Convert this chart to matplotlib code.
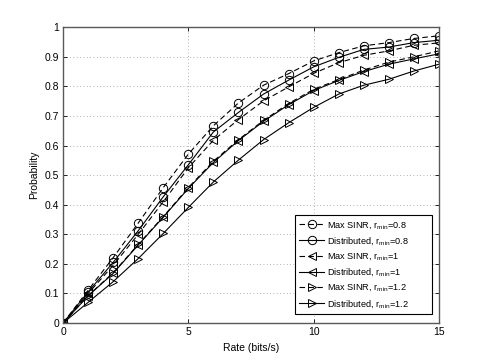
import matplotlib
matplotlib.use("Agg")
import matplotlib.pyplot as plt

rate = [0, 1, 2, 3, 4, 5, 6, 7, 8, 9, 10, 11, 12, 13, 14, 15]
maxsinr_08 = [0, 0.111, 0.221, 0.338, 0.458, 0.571, 0.667, 0.744, 0.804, 0.843, 0.886, 0.914, 0.937, 0.948, 0.962, 0.971]
dist_08 = [0, 0.105, 0.205, 0.312, 0.427, 0.535, 0.646, 0.712, 0.774, 0.821, 0.866, 0.898, 0.925, 0.933, 0.948, 0.956]
maxsinr_1 = [0, 0.100, 0.195, 0.300, 0.410, 0.525, 0.618, 0.688, 0.751, 0.798, 0.844, 0.880, 0.905, 0.920, 0.939, 0.947]
dist_1 = [0, 0.092, 0.168, 0.264, 0.358, 0.455, 0.543, 0.617, 0.682, 0.738, 0.786, 0.820, 0.850, 0.875, 0.893, 0.910]
maxsinr_12 = [0, 0.093, 0.170, 0.266, 0.360, 0.458, 0.547, 0.620, 0.685, 0.742, 0.790, 0.823, 0.855, 0.882, 0.900, 0.920]
dist_12 = [0, 0.070, 0.140, 0.218, 0.303, 0.391, 0.477, 0.551, 0.620, 0.677, 0.729, 0.774, 0.804, 0.824, 0.852, 0.875]

labels = ["Max SINR, r$_{\\mathrm{min}}$=0.8", "Distributed, r$_{\\mathrm{min}}$=0.8",
          "Max SINR, r$_{\\mathrm{min}}$=1", "Distributed, r$_{\\mathrm{min}}$=1",
          "Max SINR, r$_{\\mathrm{min}}$=1.2", "Distributed, r$_{\\mathrm{min}}$=1.2"]
xticks = [0, 5, 10, 15]
yticks = [0, 0.1, 0.2, 0.3, 0.4, 0.5, 0.6, 0.7, 0.8, 0.9, 1]
ytick_labels = ["0", "0.1", "0.2", "0.3", "0.4", "0.5", "0.6", "0.7", "0.8", "0.9", "1"]

plt.rcParams['font.family'] = ['Liberation Sans', 'DejaVu Sans']
plt.rcParams['mathtext.fontset'] = 'custom'
plt.rcParams['mathtext.rm'] = 'Liberation Sans'

fig = plt.figure(figsize=(4.85, 3.63), dpi=100)
ax = fig.add_axes([0.13, 0.11, 0.775, 0.815])

series = [maxsinr_08, dist_08, maxsinr_1, dist_1, maxsinr_12, dist_12]
markers = ['o', 'o', '<', '<', '>', '>']
styles = ['--', '-', '--', '-', '--', '-']
for ys, m, ls, lab in zip(series, markers, styles, labels):
    ax.plot(rate, ys, linestyle=ls, marker=m, color='black', lw=0.8,
            markersize=6, markerfacecolor='none', markeredgewidth=0.7,
            dashes=(5, 3) if ls == '--' else (None, None), label=lab)

ax.set_xlim(0, 15)
ax.set_ylim(0, 1)
ax.set_xticks(xticks)
ax.set_yticks(yticks)
ax.set_yticklabels(ytick_labels)
ax.grid(True, linestyle=(0, (1, 3)), color='0.6', lw=0.6)
ax.tick_params(direction='in', labelsize=7.5, length=3, width=0.6, top=True, right=True, pad=3)
for s in ax.spines.values():
    s.set_color('0.35')
    s.set_linewidth(1.0)
ax.set_xlabel("Rate (bits/s)", fontsize=7.5, labelpad=4)
ax.set_ylabel("Probability", fontsize=7.5, labelpad=4)

leg = ax.legend(loc='lower left', bbox_to_anchor=(0.616, 0.03, 0.365, 0.335), mode='expand',
                borderaxespad=0, fontsize=6.6, fancybox=False, edgecolor='black', framealpha=1,
                handlelength=2.7, labelspacing=0.45, borderpad=0.5, handletextpad=0.3)
leg.get_frame().set_linewidth(0.8)

fig.savefig("out.png", dpi=100)
